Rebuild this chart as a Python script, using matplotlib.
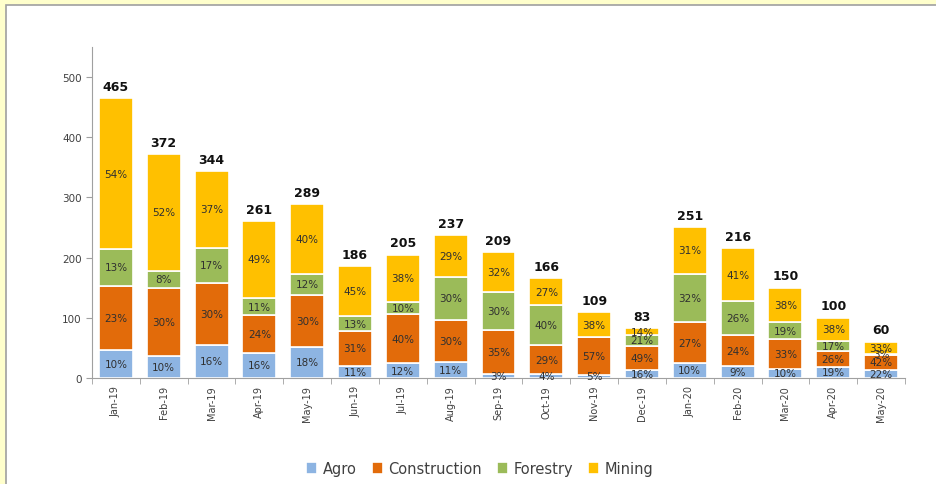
import matplotlib.pyplot as plt
from matplotlib.patches import Rectangle
import numpy as np

months = ['Jan-19', 'Feb-19', 'Mar-19', 'Apr-19', 'May-19', 'Jun-19', 'Jul-19', 'Aug-19',
          'Sep-19', 'Oct-19', 'Nov-19', 'Dec-19', 'Jan-20', 'Feb-20', 'Mar-20', 'Apr-20', 'May-20']
totals = [465, 372, 344, 261, 289, 186, 205, 237, 209, 166, 109, 83, 251, 216, 150, 100, 60]

# percentage share of each sector per month
agro = [10, 10, 16, 16, 18, 11, 12, 11, 3, 4, 5, 16, 10, 9, 10, 19, 22]
construction = [23, 30, 30, 24, 30, 31, 40, 30, 35, 29, 57, 49, 27, 24, 33, 26, 42]
forestry = [13, 8, 17, 11, 12, 13, 10, 30, 30, 40, 0, 21, 32, 26, 19, 17, 3]
mining = [54, 52, 37, 49, 40, 45, 38, 29, 32, 27, 38, 14, 31, 41, 38, 38, 33]

sectors = ['Agro', 'Construction', 'Forestry', 'Mining']
colors = ['#8DB4E2', '#E26B0A', '#9BBB59', '#FFC000']
shares = [agro, construction, forestry, mining]

fig = plt.figure(figsize=(9.37, 4.85), dpi=100)
fig.patch.set_facecolor('#FFFFCC')
fig.patches.append(Rectangle((6 / 937, -0.05), 1.1, 1 - 6 / 485 + 0.05, transform=fig.transFigure,
                             facecolor='white', edgecolor='#A0A0A0', linewidth=1.2, zorder=-10))

ax = fig.add_axes([92 / 937, 1 - 379 / 485, (905 - 92) / 937, (379 - 48) / 485])
ax.set_facecolor('none')

x = np.arange(len(months))
tot = np.array(totals, dtype=float)
bottom = np.zeros(len(months))
for name, col, pct in zip(sectors, colors, shares):
    h = tot * np.array(pct) / 100.0
    ax.bar(x, h, 0.71, bottom=bottom, color=col, edgecolor='white', linewidth=1.2, label=name)
    for i in range(len(months)):
        if pct[i] > 0:
            ax.text(x[i], bottom[i] + h[i] / 2, f'{pct[i]}%', ha='center', va='center',
                    fontsize=7.5, color='#303030')
    bottom += h

for i, t in enumerate(totals):
    ax.text(x[i], t + 9, str(t), ha='center', va='bottom', fontsize=9, fontweight='bold', color='#111111')

ax.set_xlim(-0.5, len(months) - 0.5)
ax.set_ylim(0, 550)
ax.set_yticks([0, 100, 200, 300, 400, 500])
ax.tick_params(axis='y', labelsize=7.5, labelcolor='#404040', color='#A0A0A0', length=4)
ax.set_xticks(x)
ax.set_xticklabels(months, rotation=90, fontsize=7, color='#404040')
ax.set_xticks(np.arange(-0.5, len(months), 1), minor=True)
ax.tick_params(axis='x', which='major', length=0, pad=5)
ax.tick_params(axis='x', which='minor', length=4, color='#A0A0A0')
for s in ['top', 'right']:
    ax.spines[s].set_visible(False)
ax.spines['left'].set_color('#A0A0A0')
ax.spines['bottom'].set_color('#A0A0A0')

fig.legend(loc='center', bbox_to_anchor=(0.512, 0.031), ncol=4, frameon=False, fontsize=10.5,
           handlelength=0.75, handleheight=0.9, handletextpad=0.4, columnspacing=1.0,
           labelcolor='#404040')

plt.savefig('out.png', dpi=100, facecolor=fig.get_facecolor())
